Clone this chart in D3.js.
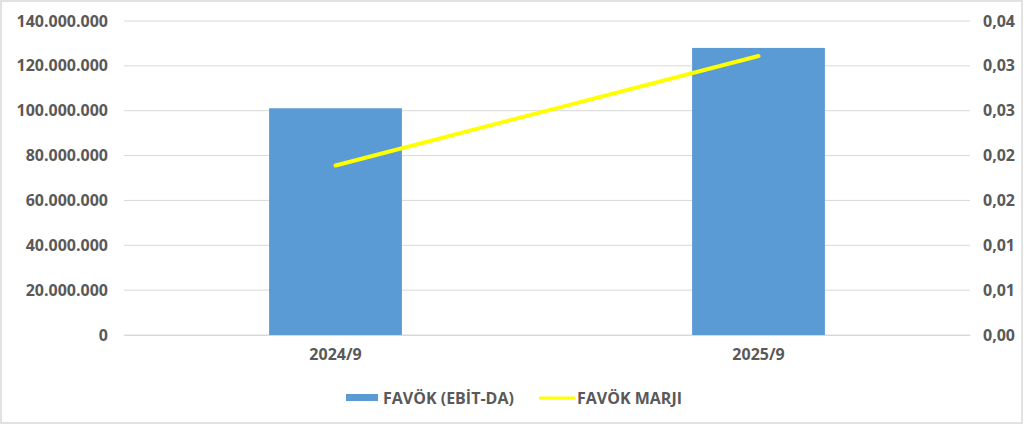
<!DOCTYPE html>
<html>
<head>
<meta charset="utf-8">
<script src="https://cdn.jsdelivr.net/npm/d3@7"></script>
<style>
  html, body { margin: 0; padding: 0; background: #fff; }
  svg text { font-family: "Open Sans", sans-serif; font-weight: 700; fill: #595959; }
</style>
</head>
<body>
<svg id="chart" width="1024" height="425"></svg>
<script>
// chart values
var categories = ['2024/9', '2025/9'];
var ebitda = [101100000, 128000000];
var margin = [0.0189, 0.0311];
var leftTicks = [0, 20000000, 40000000, 60000000, 80000000, 100000000, 120000000, 140000000];
var rightTicks = [0, 0.005, 0.01, 0.015, 0.02, 0.025, 0.03, 0.035];
var seriesNames = ['FAVÖK (EBİT-DA)', 'FAVÖK MARJI'];

var svg = d3.select('#chart');
var plot = { left: 124, right: 970, top: 21, bottom: 335 };

// outer frame
svg.append('rect')
  .attr('x', 1).attr('y', 1)
  .attr('width', 1021).attr('height', 422)
  .attr('fill', '#fff')
  .attr('stroke', '#d9d9d9')
  .attr('stroke-width', 1.5);

var x = d3.scaleBand()
  .domain(categories)
  .range([plot.left, plot.right])
  .padding(0);

var yLeft = d3.scaleLinear()
  .domain([0, 140000000])
  .range([plot.bottom, plot.top]);

var yRight = d3.scaleLinear()
  .domain([0, 0.035])
  .range([plot.bottom, plot.top]);

var fmtLeft = function (d) {
  return d3.format(',.0f')(d).replace(/,/g, '.');
};
var fmtRight = function (d) {
  return d3.format('.2f')(d + 1e-9).replace('.', ',');
};

// gridlines
svg.append('g')
  .selectAll('line')
  .data(leftTicks)
  .enter()
  .append('line')
  .attr('x1', plot.left).attr('x2', plot.right)
  .attr('y1', function (d) { return yLeft(d); })
  .attr('y2', function (d) { return yLeft(d); })
  .attr('stroke', '#d9d9d9')
  .attr('stroke-width', 1);

// left axis
var leftAxis = svg.append('g')
  .attr('transform', 'translate(' + plot.left + ',0)')
  .call(d3.axisLeft(yLeft).tickValues(leftTicks).tickFormat(fmtLeft).tickSize(0).tickPadding(16));
leftAxis.select('.domain').remove();
leftAxis.selectAll('text').style('font-size', '16px').attr('fill', '#595959');

// right axis
var rightAxis = svg.append('g')
  .attr('transform', 'translate(' + plot.right + ',0)')
  .call(d3.axisRight(yRight).tickValues(rightTicks).tickFormat(fmtRight).tickSize(0).tickPadding(13));
rightAxis.select('.domain').remove();
rightAxis.selectAll('text').style('font-size', '16px').attr('fill', '#595959');

// bars
var barWidth = x.bandwidth() * 0.314;
svg.append('g')
  .selectAll('rect')
  .data(ebitda)
  .enter()
  .append('rect')
  .attr('x', function (d, i) { return x(categories[i]) + x.bandwidth() / 2 - barWidth / 2; })
  .attr('y', function (d) { return yLeft(d); })
  .attr('width', barWidth)
  .attr('height', function (d) { return plot.bottom - yLeft(d); })
  .attr('fill', '#5b9bd5');

// bottom axis
var bottomAxis = svg.append('g')
  .attr('transform', 'translate(0,' + plot.bottom + ')')
  .call(d3.axisBottom(x).tickSize(0).tickPadding(14));
bottomAxis.select('.domain').attr('stroke', '#d9d9d9');
bottomAxis.selectAll('text').style('font-size', '16px').attr('fill', '#595959');

// margin line
var line = d3.line()
  .x(function (d, i) { return x(categories[i]) + x.bandwidth() / 2; })
  .y(function (d) { return yRight(d); });

svg.append('path')
  .datum(margin)
  .attr('d', line)
  .attr('fill', 'none')
  .attr('stroke', '#ffff00')
  .attr('stroke-width', 4)
  .attr('stroke-linecap', 'round');

// legend
var legend = svg.append('g').attr('transform', 'translate(0,398)');
legend.append('rect')
  .attr('x', 346).attr('y', -4)
  .attr('width', 32).attr('height', 7)
  .attr('fill', '#5b9bd5');
legend.append('text')
  .attr('x', 383).attr('y', 0).attr('dy', '0.35em')
  .style('font-size', '16px')
  .text(seriesNames[0]);
legend.append('line')
  .attr('x1', 539).attr('x2', 575)
  .attr('y1', 0).attr('y2', 0)
  .attr('stroke', '#ffff00')
  .attr('stroke-width', 3);
legend.append('text')
  .attr('x', 577).attr('y', 0).attr('dy', '0.35em')
  .style('font-size', '16px')
  .text(seriesNames[1]);
</script>
</body>
</html>
